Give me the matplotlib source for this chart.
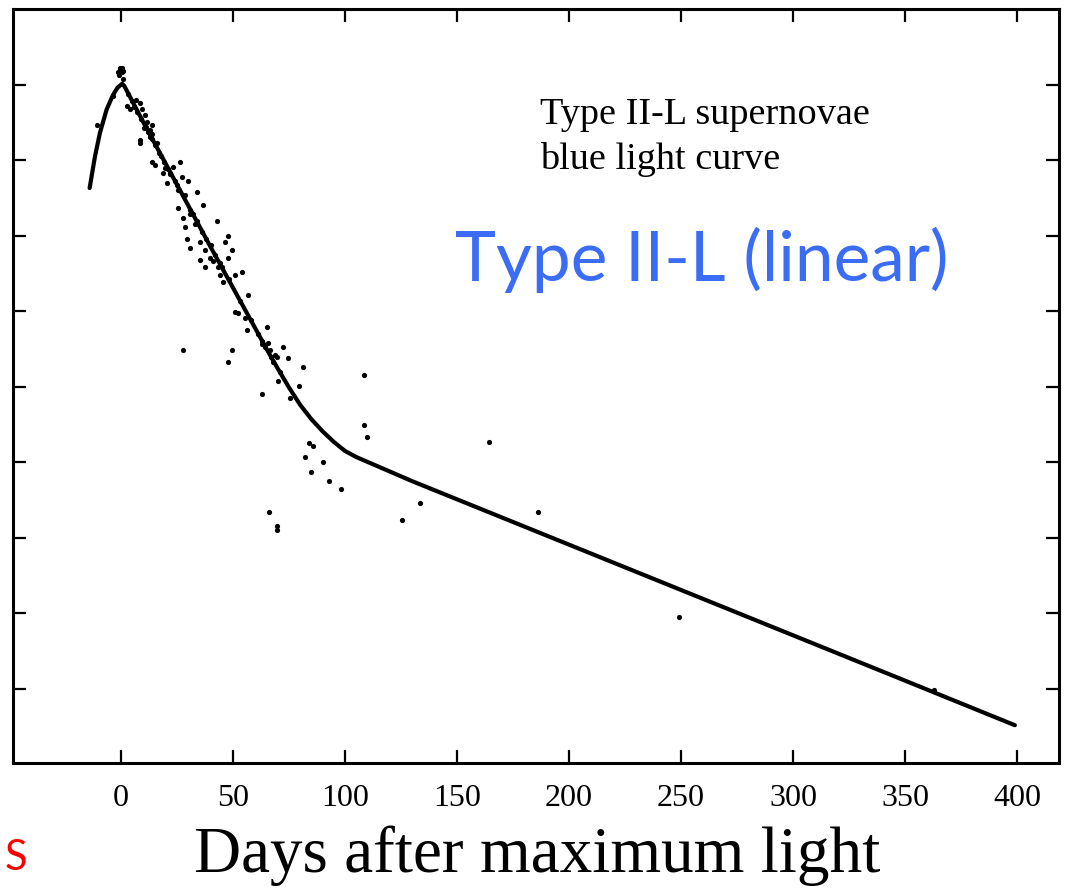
import matplotlib
matplotlib.use("Agg")
import matplotlib.pyplot as plt

# Template blue light curve of a Type II-L supernova (days after max, mag below peak)
curve_days = [-14.0, -11.6, -9.4, -6.4, -3.6, -1.5, 0.5, 1.5, 10, 20, 30, 40, 50, 60,
              65, 70, 75, 80, 85, 90, 95, 100, 105, 130, 160, 200, 250, 300, 350, 399]
curve_mag = [1.37, 0.95, 0.64, 0.33, 0.14, 0.04, -0.01, 0.02, 0.50, 1.05, 1.60, 2.15, 2.69, 3.23,
             3.50, 3.76, 4.01, 4.24, 4.43, 4.59, 4.73, 4.85, 4.93, 5.25, 5.61, 6.09, 6.69, 7.29, 7.89, 8.48]

# Individual observations
obs_days = [-0.4, 0.4, -1.3, -0.9, 0.9, -10.7, -3.6, 2.7, 4.0, 8.5, 9.4, 6.7, 10.7, 11.6,
            12.9, 13.8, 8.5, 16.1, 13.8, 10.3, 8.5, 12.9, 13.8, 15.2, 18.7, 19.6, 21.9, 20.5,
            23.2, 26.3, 27.2, 29.9, 25.4, 28.5, 33.9, 36.6, 25.4, 27.6, 30.8, 33.0, 42.8, 28.5,
            29.4, 30.8, 35.2, 37.5, 39.7, 41.0, 46.4, 47.7, 49.5, 47.7, 35.2, 37.5, 54.0, 44.1,
            45.5, 50.8, 43.3, 56.6, 50.8, 52.2, 55.3, 56.2, 65.1, 49.5, 47.7, 62.9, 64.2, 66.4,
            65.6, 72.2, 74.5, 68.7, 81.2, 69.6, 70.0, 62.9, 79.4, 75.4, 27.6, 108.4, 108.4,
            109.7, 164.1, 83.8, 85.6, 82.1, 90.1, 84.7, 92.8, 98.1, 133.3, 186.0, 125.3, 66.0,
            69.6, 69.6, 249.3, 363.0,
            -0.5, 0.5, 1.0, 3, 5, 6, 7, 9, 11, 12, 14, 15, 17, 18, 19, 21, 22, 24, 25, 26,
            31, 32, 34, 36, 38, 40, 42, 44, 45, 48, 53, 58, 61, 63, 67, 68, 71]
obs_mag = [-0.20, -0.16, -0.17, -0.12, -0.07, 0.53, 0.15, 0.29, 0.33, 0.24, 0.33, 0.20, 0.40, 0.50,
           0.60, 0.66, 0.73, 0.77, 0.53, 0.57, 0.77, 0.69, 1.02, 1.06, 1.17, 1.10, 1.19, 1.30,
           1.09, 1.02, 1.22, 1.28, 1.39, 1.46, 1.42, 1.59, 1.63, 1.76, 1.72, 1.85, 1.81, 1.89,
           2.05, 2.16, 2.08, 2.19, 2.29, 2.34, 2.08, 2.00, 2.19, 2.29, 2.32, 2.42, 2.48, 2.52,
           2.61, 2.52, 2.42, 2.78, 3.01, 3.02, 3.09, 3.25, 3.21, 3.51, 3.67, 3.44, 3.47, 3.51,
           3.42, 3.48, 3.62, 3.58, 3.74, 3.60, 3.93, 4.09, 3.99, 4.15, 3.51, 3.84, 4.50,
           4.66, 4.73, 4.74, 4.79, 4.93, 4.99, 5.13, 5.25, 5.35, 5.54, 5.66, 5.77, 5.66,
           5.89, 5.84, 7.05, 8.01,
           -0.22, -0.22, -0.18, 0.12, 0.22, 0.30, 0.36, 0.45, 0.56, 0.63, 0.72, 0.80, 0.90,
           0.95, 1.02, 1.12, 1.17, 1.27, 1.33, 1.40, 1.66, 1.72, 1.80, 1.95, 2.05, 2.12,
           2.26, 2.36, 2.42, 2.58, 2.86, 3.12, 3.30, 3.40, 3.60, 3.67, 3.80]

x_ticks = [0, 50, 100, 150, 200, 250, 300, 350, 400]
y_ticks = [0, 1, 2, 3, 4, 5, 6, 7, 8]

W, H = 1067, 894
fig = plt.figure(figsize=(W / 100, H / 100), dpi=100)
ax = fig.add_axes([13 / W, 1 - 763 / H, (1059 - 13) / W, (763 - 9) / H])

ax.plot(curve_days, curve_mag, color="black", lw=3.0,
        solid_capstyle="round", solid_joinstyle="round", zorder=3)
ax.scatter(obs_days, obs_mag, s=14, color="black", linewidths=0, zorder=4)

ax.set_xlim(-48.2, 418.7)
ax.set_ylim(8.98, -1.0)
ax.set_xticks(x_ticks)
ax.set_yticks(y_ticks)
ax.tick_params(direction="in", length=9.5, width=1.6, top=True, right=True,
               labelleft=False, labelsize=23, pad=15)
for lab in ax.get_xticklabels():
    lab.set_family("Liberation Serif")
for sp in ax.spines.values():
    sp.set_linewidth(2.2)

serif = "Liberation Serif"
fig.text(540 / W, 1 - 124 / H, "Type II-L supernovae", family=serif, fontsize=27.5,
         ha="left", va="baseline")
fig.text(540 / W, 1 - 169 / H, "blue light curve", family=serif, fontsize=27.5,
         ha="left", va="baseline")
fig.text(455 / W, 1 - 281 / H, "Type II-L (linear)", family="Lato", fontsize=50,
         color="#3a6cf4", ha="left", va="baseline")
fig.text(537 / W, 1 - 872 / H, "Days after maximum light", family=serif, fontsize=47,
         ha="center", va="baseline")
fig.text(5 / W, 1 - 870 / H, "S", family="Lato", fontsize=30, color="#ff0000",
         ha="left", va="baseline")

fig.savefig("out.png", dpi=100)
